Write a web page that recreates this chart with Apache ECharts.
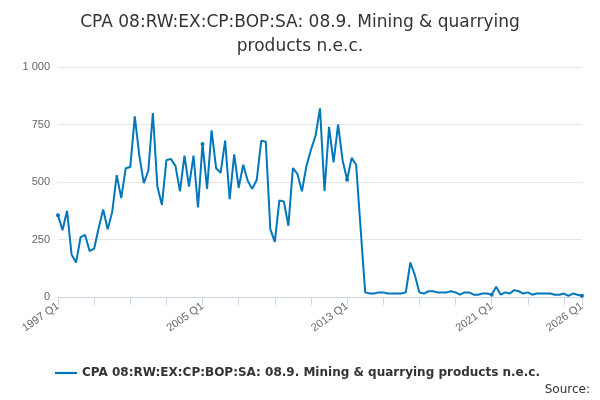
<!doctype html>
<html lang="en">
<head>
  <meta charset="UTF-8">
  <title>CPA 08</title>
  <script src="https://cdn.jsdelivr.net/npm/echarts@6/dist/echarts.min.js"></script>
  <style>
    html, body { margin: 0; padding: 0; background: #fff; }
    #chart { width: 600px; height: 400px; }
  </style>
</head>
<body>
<div id="chart"></div>
<script>
  var seriesName = 'CPA 08:RW:EX:CP:BOP:SA: 08.9. Mining & quarrying products n.e.c.';
  var startYear = 1997;
  var endYear = 2026;

  var values = [
    355, 290, 375, 185,  150, 260, 270, 200,  210, 300, 380, 295,  370, 530, 430, 560,
    565, 785, 615, 495,  550, 800, 480, 400,  595, 600, 570, 460,  615, 480, 615, 390,
    665, 470, 725, 560,  540, 680, 425, 620,  475, 575, 505, 470,  510, 680, 675, 295,
    240, 420, 415, 310,  560, 535, 460, 570,  640, 700, 820, 460,  740, 585, 750, 595,
    510, 605, 575, 295,  20, 15, 15, 20,  20, 15, 15, 15,  15, 20, 150, 95,
    20, 15, 25, 25,  20, 20, 20, 25,  20, 10, 20, 20,  10, 10, 15, 15,
    10, 45, 10, 20,  15, 30, 25, 15,  20, 10, 15, 15,  15, 15, 10, 10,
    15, 5, 15, 10,  5
  ];

  var categories = [];
  for (var y = startYear; y <= endYear; y++) {
    for (var q = 1; q <= 4; q++) {
      if (y === endYear && q > 1) break;
      categories.push(y + ' Q' + q);
    }
  }
  var last = categories.length - 1;

  var chart = echarts.init(document.getElementById('chart'));
  chart.setOption({
    animation: false,
    title: {
      text: 'CPA 08:RW:EX:CP:BOP:SA: 08.9. Mining & quarrying\nproducts n.e.c.',
      left: 'center',
      top: 6,
      textStyle: { fontSize: 17, fontWeight: 'normal', color: '#333', lineHeight: 24, fontFamily: 'DejaVu Sans' }
    },
    grid: { left: 58, right: 18, top: 67, bottom: 103 },
    legend: {
      bottom: 16,
      left: 50,
      icon: 'path://M0,4 L20,4 L20,6 L0,6 Z',
      itemWidth: 22,
      itemHeight: 6,
      textStyle: { fontSize: 12, fontWeight: 'bold', color: '#333', fontFamily: 'DejaVu Sans' },
      data: [seriesName]
    },
    graphic: [{
      type: 'text', right: 10, bottom: 4,
      style: { text: 'Source:', fontSize: 12, fill: '#333', fontFamily: 'DejaVu Sans' }
    }],
    xAxis: {
      type: 'category',
      data: categories,
      boundaryGap: false,
      axisLine: { lineStyle: { color: '#ccd6eb' } },
      axisTick: {
        lineStyle: { color: '#ccd6eb' },
        length: 8,
        interval: function (i) { return i % 8 === 0 || i === last; }
      },
      axisLabel: {
        rotate: 35,
        color: '#666',
        fontSize: 11,
        interval: function (i) { return i % 32 === 0 || i === last; },
        formatter: function (v) { return v.replace(' ', ' '); }
      }
    },
    yAxis: {
      type: 'value',
      min: 0,
      max: 1000,
      interval: 250,
      axisLabel: {
        color: '#666',
        fontSize: 11,
        formatter: function (v) { return v >= 1000 ? '1 000' : String(v); }
      },
      splitLine: { lineStyle: { color: '#e6e6e6' } }
    },
    series: [{
      name: seriesName,
      type: 'line',
      data: values,
      symbol: 'circle',
      symbolSize: 4,
      itemStyle: { color: '#0077bb' },
      lineStyle: { width: 2, color: '#0077bb' }
    }]
  });
</script>
</body>
</html>
